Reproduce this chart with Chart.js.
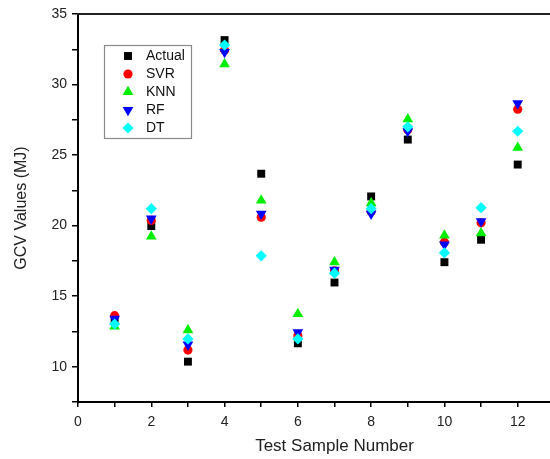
<!DOCTYPE html>
<html>
<head>
<meta charset="utf-8">
<script src="https://cdn.jsdelivr.net/npm/chart.js@4.4.1/dist/chart.umd.min.js"></script>
<style>
  html, body { margin: 0; padding: 0; background: #fff; overflow: hidden; }
  #wrap { width: 600px; height: 459px; }
</style>
</head>
<body>
<div id="wrap"><canvas id="c" width="600" height="459"></canvas></div>
<script>
const sampleNumbers = [1, 2, 3, 4, 5, 6, 7, 8, 9, 10, 11, 12];
const actual = [13.3, 19.97, 10.36, 33.15, 23.68, 11.66, 15.97, 22.07, 26.1, 17.41, 19.0, 24.33];
const svr    = [13.62, 20.37, 11.18, 32.45, 20.6, 12.2, 16.8, 21.0, 26.8, 18.83, 20.2, 28.25];
const knn    = [12.86, 19.23, 12.6, 31.45, 21.79, 13.74, 17.41, 21.6, 27.54, 19.3, 19.47, 25.53];
const rf     = [13.4, 20.49, 11.56, 32.3, 20.84, 12.44, 16.87, 20.84, 26.69, 18.66, 20.3, 28.66];
const dt     = [13.03, 21.2, 11.97, 32.8, 17.86, 11.97, 16.63, 21.2, 27.0, 18.07, 21.27, 26.69];

const seriesNames = ['Actual', 'SVR', 'KNN', 'RF', 'DT'];
const xTicksLabelled = [0, 2, 4, 6, 8, 10, 12];
const yTicksLabelled = [10, 15, 20, 25, 30, 35];

function pts(vals) { return sampleNumbers.map((x, i) => ({ x: x, y: vals[i] })); }

const styles = [
  { color: '#000000', pointStyle: 'rect', radius: 5.6, rotation: 0 },
  { color: '#ff0000', pointStyle: 'circle', radius: 4.6, rotation: 0 },
  { color: '#00ee00', pointStyle: 'triangle', radius: 6.2, rotation: 0 },
  { color: '#0000ff', pointStyle: 'triangle', radius: 6.2, rotation: 180 },
  { color: '#00ffff', pointStyle: 'rectRot', radius: 5.6, rotation: 0 }
];
const allVals = [actual, svr, knn, rf, dt];

const datasets = seriesNames.map((name, i) => ({
  label: name,
  data: pts(allVals[i]),
  backgroundColor: styles[i].color,
  borderColor: styles[i].color,
  borderWidth: 0,
  pointStyle: styles[i].pointStyle,
  pointRadius: styles[i].radius,
  pointHoverRadius: styles[i].radius,
  pointRotation: styles[i].rotation,
  order: 5 - i
}));

function drawMarker(ctx, st, x, y) {
  if (Chart.helpers && Chart.helpers.drawPoint) {
    ctx.save();
    ctx.fillStyle = st.color;
    ctx.strokeStyle = st.color;
    ctx.lineWidth = 0;
    Chart.helpers.drawPoint(ctx, { pointStyle: st.pointStyle, radius: st.radius, rotation: st.rotation, borderWidth: 0 }, x, y);
    ctx.restore();
  }
}

const frameAndLegend = {
  id: 'frameAndLegend',
  afterDatasetsDraw(chart) {
    const ctx = chart.ctx;
    const a = chart.chartArea;
    ctx.save();
    // top frame line
    ctx.strokeStyle = '#222';
    ctx.lineWidth = 2;
    ctx.beginPath();
    ctx.moveTo(a.left - 1, a.top);
    ctx.lineTo(chart.width, a.top);
    ctx.stroke();
    // legend box
    const bx = 104.5, by = 45.5, bw = 87, bh = 93;
    ctx.fillStyle = '#fff';
    ctx.fillRect(bx, by, bw, bh);
    ctx.strokeStyle = '#8a8a8a';
    ctx.lineWidth = 1.2;
    ctx.strokeRect(bx, by, bw, bh);
    ctx.font = '14px "Liberation Sans", Arial, sans-serif';
    ctx.textBaseline = 'middle';
    ctx.textAlign = 'left';
    seriesNames.forEach((name, i) => {
      const yy = 56 + i * 18;
      drawMarker(ctx, styles[i], 128, yy);
      ctx.fillStyle = '#111';
      ctx.fillText(name, 146, yy + 0.5);
    });
    ctx.restore();
  }
};

new Chart(document.getElementById('c'), {
  type: 'scatter',
  data: { datasets: datasets },
  options: {
    responsive: false,
    animation: false,
    events: [],
    layout: { padding: { top: 14, right: 9, left: 0, bottom: 0 } },
    plugins: { legend: { display: false }, tooltip: { enabled: false } },
    scales: {
      x: {
        type: 'linear',
        min: 0, max: 14,
        afterFit: (s) => { s.height = 57; },
        ticks: {
          stepSize: 1,
          autoSkip: false,
          maxRotation: 0,
          padding: 7,
          color: '#222',
          font: { family: '"Liberation Sans", Arial, sans-serif', size: 14 },
          callback: (v) => xTicksLabelled.includes(v) ? String(v) : ''
        },
        grid: { drawOnChartArea: false, drawTicks: true, tickLength: 5, color: '#000', lineWidth: 1.5 },
        border: { display: true, color: '#000', width: 2 },
        title: {
          display: true,
          text: 'Test Sample Number',
          color: '#222',
          font: { family: '"Liberation Sans", Arial, sans-serif', size: 17 },
          padding: { top: 0, bottom: 2 }
        }
      },
      y: {
        type: 'linear',
        min: 7.5, max: 35,
        afterFit: (s) => { s.width = 78; },
        ticks: {
          stepSize: 2.5,
          autoSkip: false,
          padding: 5,
          color: '#222',
          font: { family: '"Liberation Sans", Arial, sans-serif', size: 14 },
          callback: (v) => yTicksLabelled.includes(v) ? String(v) : ''
        },
        grid: { drawOnChartArea: false, drawTicks: true, tickLength: 6, color: '#000', lineWidth: 1.5 },
        border: { display: true, color: '#000', width: 2 },
        title: {
          display: true,
          text: 'GCV Values (MJ)',
          color: '#222',
          font: { family: '"Liberation Sans", Arial, sans-serif', size: 16 },
          padding: { top: 12, bottom: 0 }
        }
      }
    }
  },
  plugins: [frameAndLegend]
});
</script>
</body>
</html>
